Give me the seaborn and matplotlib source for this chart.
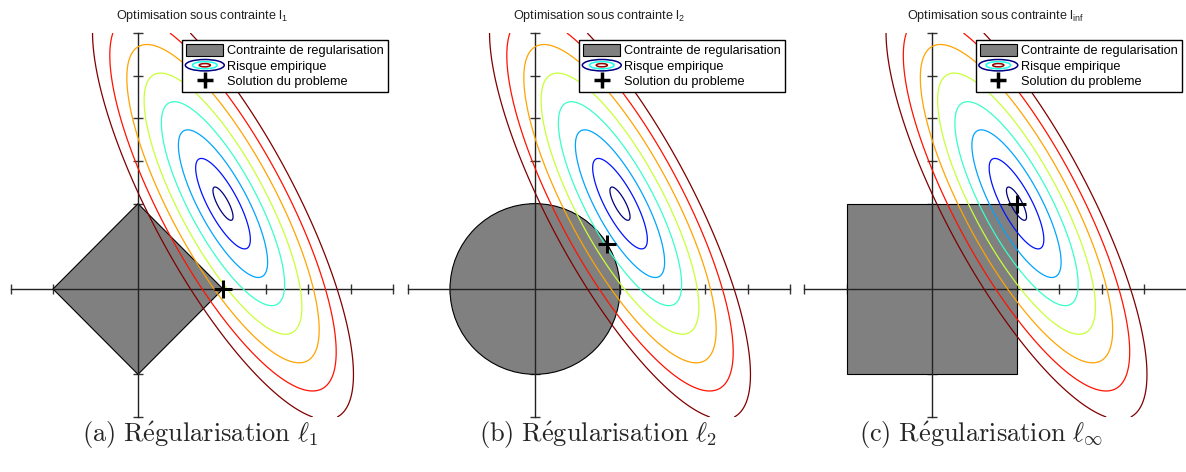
import numpy as np
import matplotlib
matplotlib.use("Agg")
import matplotlib.pyplot as plt
import seaborn as sns
from matplotlib.patches import Polygon, Circle, Rectangle, Ellipse
from matplotlib.lines import Line2D
from matplotlib.legend_handler import HandlerBase

#data
axis_lim = [-3, 6]
tick_vals = list(range(-3, 7))
risk_center = [2.0, 2.0]
risk_cov = [[0.368, -0.48], [-0.48, 1.0]]
risk_levels = [0.39, 1.06, 1.73, 2.39, 3.06, 3.73, 4.39, 5.06]
ball_radius = 2.0
sol_l1 = [2.0, 0.0]
sol_l2 = [1.70, 1.05]
sol_linf = [2.0, 2.0]
titles = ["Optimisation sous contrainte l$_{\\mathrm{1}}$",
          "Optimisation sous contrainte l$_{\\mathrm{2}}$",
          "Optimisation sous contrainte l$_{\\mathrm{inf}}$"]
captions = [r"$\mathrm{(a)\ R\acute{e}gularisation}\ \ell_1$",
            r"$\mathrm{(b)\ R\acute{e}gularisation}\ \ell_2$",
            r"$\mathrm{(c)\ R\acute{e}gularisation}\ \ell_\infty$"]
legend_labels = ["Contrainte de regularisation", "Risque empirique",
                 "Solution du probleme"]

sns.set_theme(style="white")
plt.rcParams['font.family'] = ['Liberation Sans', 'DejaVu Sans']
plt.rcParams['mathtext.fontset'] = 'custom'
plt.rcParams['mathtext.rm'] = 'Liberation Sans'

W, H = 1186, 472
fig = plt.figure(figsize=(W/100, H/100), dpi=100)

# risk function (mahalanobis distance to the empirical minimiser)
grid = np.linspace(axis_lim[0], axis_lim[1], 700)
X, Y = np.meshgrid(grid, grid)
Ainv = np.linalg.inv(np.array(risk_cov))
dX = X - risk_center[0]
dY = Y - risk_center[1]
Z = np.sqrt(Ainv[0, 0]*dX**2 + 2*Ainv[0, 1]*dX*dY + Ainv[1, 1]*dY**2)


def matlab_jet(t):
    '''old matlab jet colormap'''
    r = np.clip(min(4*t - 1.5, -4*t + 4.5), 0, 1)
    g = np.clip(min(4*t - 0.5, -4*t + 3.5), 0, 1)
    b = np.clip(min(4*t + 0.5, -4*t + 2.5), 0, 1)
    return (float(r), float(g), float(b))


n_lev = len(risk_levels)
level_colors = [matlab_jet(k/(n_lev - 1)) for k in range(n_lev)]


class ContourHandler(HandlerBase):
    '''legend icon: three nested ellipses'''
    def create_artists(self, legend, orig_handle, xdescent, ydescent,
                       width, height, fontsize, trans):
        cx = 0.5*width - xdescent
        cy = 0.5*height - ydescent
        out = []
        for frac, col in zip([1.05, 0.66, 0.3],
                             [matlab_jet(0.0), matlab_jet(0.4), (0.6, 0.0, 0.0)]):
            e = Ellipse((cx, cy), width*frac, height*0.95*frac, fill=False,
                        edgecolor=col, linewidth=1.1, transform=trans)
            out.append(e)
        return out


def make_shape(kind):
    r = ball_radius
    if kind == 'l1':
        return Polygon([[r, 0], [0, r], [-r, 0], [0, -r]], closed=True)
    if kind == 'l2':
        return Circle((0, 0), r)
    return Rectangle((-r, -r), 2*r, 2*r)


panel_left = [10.5, 407.5, 804.0]
panel_w = 382.5
panel_bottom = H - 417.0
panel_h = 384.0
caption_x = [200, 598, 981]

kinds = ['l1', 'l2', 'linf']
sols = [sol_l1, sol_l2, sol_linf]

for i in range(3):
    ax = fig.add_axes([panel_left[i]/W, panel_bottom/H, panel_w/W, panel_h/H])
    ax.set_xlim(axis_lim)
    ax.set_ylim(axis_lim)
    ax.set_facecolor('none')

    shape = make_shape(kinds[i])
    shape.set_facecolor('#808080')
    shape.set_edgecolor('black')
    shape.set_linewidth(0.8)
    shape.set_zorder(1)
    ax.add_patch(shape)

    ax.contour(X, Y, Z, levels=risk_levels, colors=level_colors,
               linewidths=0.9, zorder=3)

    sns.scatterplot(x=[sols[i][0]], y=[sols[i][1]], marker='+', s=150,
                    color='black', linewidth=2.2, ax=ax, zorder=5)

    for side in ['top', 'right']:
        ax.spines[side].set_visible(False)
    for side in ['left', 'bottom']:
        ax.spines[side].set_position(('data', 0))
        ax.spines[side].set_color('#222222')
        ax.spines[side].set_linewidth(1.0)
        ax.spines[side].set_zorder(2)
    ax.set_xticks(tick_vals)
    ax.set_yticks(tick_vals)
    ax.tick_params(direction='inout', length=7.5, width=1.0, color='#333333',
                   labelbottom=False, labelleft=False, bottom=True, left=True)
    ax.set_xlabel('')
    ax.set_ylabel('')

    ax.set_title(titles[i], fontsize=9.1, pad=10, color='#222222')

    handles = [Rectangle((0, 0), 1, 1, facecolor='#808080', edgecolor='black',
                         linewidth=0.8),
               'contour',
               Line2D([], [], marker='+', markersize=12, mew=2.5,
                      color='black', linestyle='none')]
    leg = ax.legend(handles, legend_labels, loc='upper right',
                    bbox_to_anchor=(1 - 5/panel_w, 1 - 7/panel_h),
                    borderaxespad=0, fontsize=9.2, frameon=True, fancybox=False,
                    framealpha=1, edgecolor='black', handlelength=2.9,
                    handleheight=1.0, labelspacing=0.18, handletextpad=0.3,
                    borderpad=0.32,
                    handler_map={str: ContourHandler()})
    leg.get_frame().set_linewidth(1.0)
    leg.set_zorder(10)
    for t in leg.get_texts():
        t.set_color('black')

    fig.text(caption_x[i]/W, 1 - 442/H, captions[i],
             ha='center', va='baseline', fontsize=19, math_fontfamily='cm')

fig.savefig("out.png", dpi=100)
